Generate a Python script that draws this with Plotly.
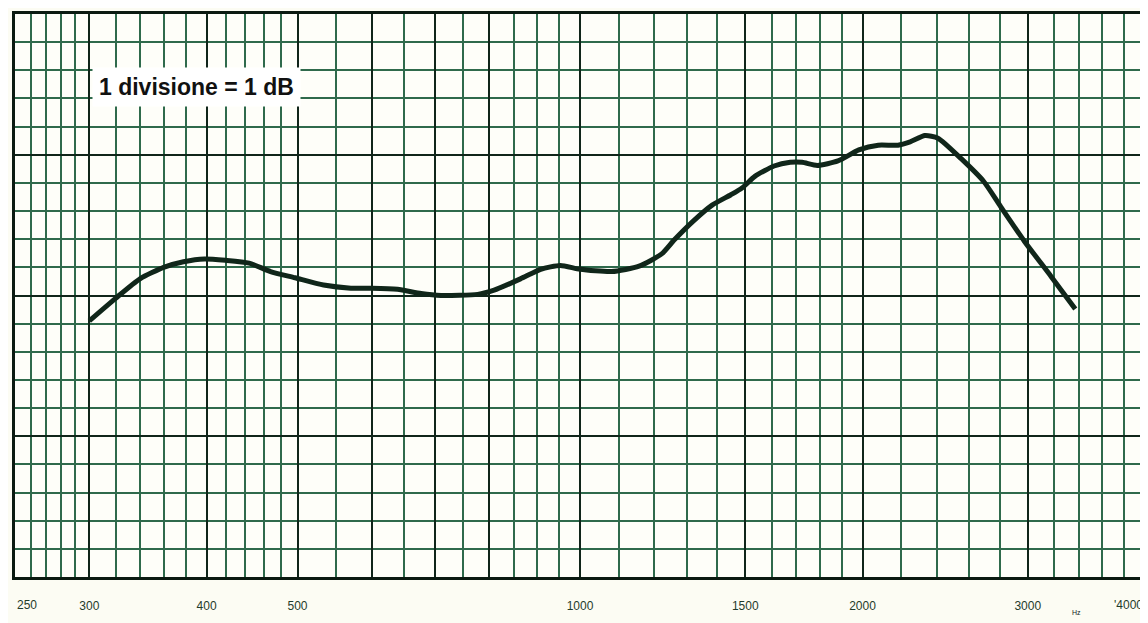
import plotly.graph_objects as go

# Frequency response (Hz, dB on the paper's 1 dB divisions)
freq_hz = [300, 320, 340, 360, 378, 398, 419, 444, 468, 497,
           533, 570, 600, 639, 677, 711, 778, 810, 864, 908,
           953, 1000, 1081, 1156, 1222, 1259, 1322, 1383, 1448, 1488,
           1537, 1610, 1675, 1725, 1790, 1883, 1982, 2079, 2182, 2248,
           2331, 2407, 2548, 2693, 2808, 2975, 3178, 3371]
level_db = [9.1, 9.9, 10.6, 11.0, 11.2, 11.3, 11.25, 11.15, 10.85, 10.63,
            10.37, 10.26, 10.26, 10.22, 10.07, 10.0, 10.04, 10.19, 10.59, 10.93,
            11.07, 10.93, 10.85, 11.04, 11.48, 11.96, 12.66, 13.21, 13.58, 13.82,
            14.24, 14.6, 14.73, 14.73, 14.62, 14.78, 15.17, 15.34, 15.34, 15.46,
            15.68, 15.59, 14.86, 14.05, 13.15, 11.93, 10.67, 9.52]

# Paper grid
major_x = [250, 300, 400, 500, 600, 700, 800, 1000, 1500, 2000, 3000, 4000]
major_x_text = ["", "300", "400", "500", "", "", "", "1000", "1500", "2000", "3000", ""]
edge_left_text = "250"
edge_right_text = "'4000"
minor_x = [260, 270, 280, 290, 320, 340, 360, 380, 420, 440, 460, 480,
           550, 650, 750, 850, 900, 950, 1100, 1200, 1300, 1400,
           1600, 1700, 1800, 1900, 2200, 2400, 2600, 2800,
           3200, 3400, 3600, 3800]
major_y = [0, 5, 10, 15, 20]
minor_y = [v for v in range(1, 20) if v % 5 != 0]

label_text = "1 divisione = 1 dB"

GREEN = "#2f6a4c"
DARK = "#10251a"
TICK_FONT = dict(family="Liberation Sans", size=12, color="#1f3b2b")

fig = go.Figure()
fig.add_trace(go.Scatter(
    x=freq_hz, y=level_db, mode="lines",
    line=dict(color="#10261a", width=5, shape="spline", smoothing=0.6),
    showlegend=False, hoverinfo="skip",
))

fig.add_annotation(
    x=2.4800, y=17.4, xref="x", yref="y", xanchor="left", yanchor="middle",
    text="<b>" + label_text + "</b>", showarrow=False,
    font=dict(family="Liberation Sans", size=23, color="#111111"),
    bgcolor="#ffffff", borderpad=6,
)
fig.add_annotation(
    x=0.0, y=-0.05, xref="paper", yref="paper", xanchor="left", yanchor="middle",
    text=edge_left_text, showarrow=False, font=TICK_FONT,
)
fig.add_annotation(
    x=1.0, y=-0.05, xref="paper", yref="paper", xanchor="right", yanchor="middle",
    text=edge_right_text, showarrow=False, font=TICK_FONT,
)
fig.add_annotation(
    x=0.945, y=-0.072, xref="paper", yref="paper", text="Hz", showarrow=False,
    font=dict(family="Liberation Sans", size=7, color=DARK),
)

fig.update_xaxes(
    type="log", range=[2.39794, 3.60206], automargin=False,
    tickmode="array", tickvals=major_x, ticktext=major_x_text,
    showgrid=True, gridcolor=DARK, gridwidth=2,
    minor=dict(tickmode="array", tickvals=minor_x, showgrid=True,
               gridcolor=GREEN, gridwidth=1.6, ticks=""),
    ticks="", ticklabelstandoff=16, ticklabeloverflow="allow",
    tickfont=TICK_FONT,
    showline=True, linecolor="#0b1a11", linewidth=2.5, mirror=True,
    zeroline=False,
)
fig.update_yaxes(
    range=[0, 20], tickmode="array", tickvals=major_y, automargin=False,
    showticklabels=False,
    showgrid=True, gridcolor=DARK, gridwidth=2,
    minor=dict(tickmode="array", tickvals=minor_y, showgrid=True,
               gridcolor=GREEN, gridwidth=1.6, ticks=""),
    ticks="", showline=True, linecolor="#0b1a11", linewidth=2.5, mirror=True,
    zeroline=False,
)

# The page body adds an 8 px offset; size the figure to fit the 1148x623 window
fig.update_layout(
    width=1140, height=615,
    margin=dict(l=7, r=3, t=6, b=46),
    paper_bgcolor="#fcfcf3", plot_bgcolor="#fefef9",
)

fig.write_html("out.html")
